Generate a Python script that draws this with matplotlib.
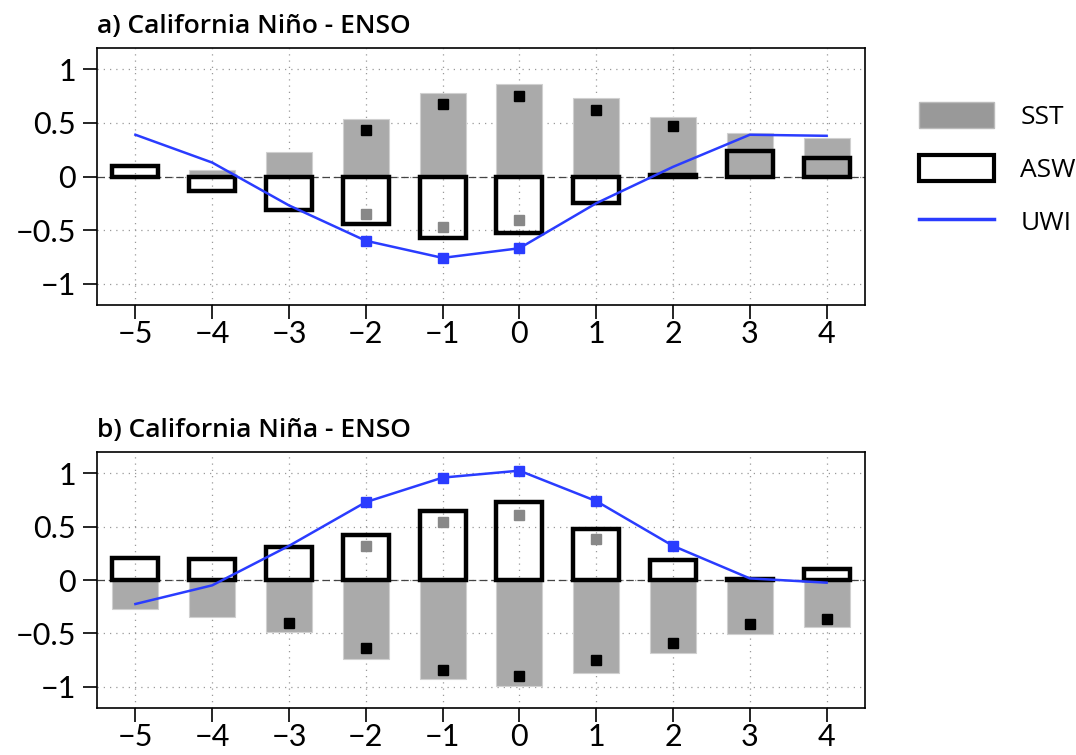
import matplotlib
matplotlib.use('Agg')
import matplotlib.pyplot as plt
from matplotlib.patches import Patch
from matplotlib.lines import Line2D

plt.rcParams['font.family'] = ['Open Sans', 'DejaVu Sans']

# lags
lags = [-5, -4, -3, -2, -1, 0, 1, 2, 3, 4]

# a) California Nino - ENSO
sst_a = [0.0, 0.06, 0.23, 0.54, 0.78, 0.86, 0.73, 0.56, 0.41, 0.36]
asw_a = [0.10, -0.14, -0.31, -0.44, -0.57, -0.53, -0.25, 0.015, 0.24, 0.175]
uwi_a = [0.39, 0.13, -0.27, -0.60, -0.76, -0.67, -0.25, 0.09, 0.39, 0.38]
sig_uwi_a = [-2, -1, 0]
sig_sst_a_x = [-2, -1, 0, 1, 2]
sig_sst_a_y = [0.43, 0.68, 0.75, 0.62, 0.47]
sig_asw_a_x = [-2, -1, 0]
sig_asw_a_y = [-0.35, -0.47, -0.41]

# b) California Nina - ENSO
sst_b = [-0.27, -0.35, -0.49, -0.74, -0.93, -0.99, -0.87, -0.68, -0.51, -0.44]
asw_b = [0.21, 0.20, 0.31, 0.42, 0.65, 0.73, 0.48, 0.19, 0.01, 0.10]
uwi_b = [-0.225, -0.05, 0.32, 0.73, 0.96, 1.025, 0.74, 0.32, 0.015, -0.025]
sig_uwi_b = [-2, -1, 0, 1, 2]
sig_sst_b_x = [-3, -2, -1, 0, 1, 2, 3, 4]
sig_sst_b_y = [-0.40, -0.64, -0.84, -0.90, -0.75, -0.59, -0.41, -0.37]
sig_asw_b_x = [-2, -1, 0, 1]
sig_asw_b_y = [0.32, 0.54, 0.61, 0.38]

SST_COLOR = '#aaaaaa'
BLUE = '#2a3cff'


def draw_panel(ax, title, sst, asw, uwi, sig_uwi, ssx, ssy, sax, say):
    ax.set_xlim(-5.5, 4.5)
    ax.set_ylim(-1.2, 1.2)
    ax.grid(True, color='#999999', linestyle=(0, (1, 4)), linewidth=0.9)
    ax.set_axisbelow(True)
    ax.axhline(0, color='#444444', linestyle=(0, (6, 3)), linewidth=0.9, zorder=2)
    ax.bar(lags, sst, width=0.6, color=SST_COLOR, edgecolor='#d0d0d0', linewidth=0.8, zorder=1)
    ax.bar(lags, asw, width=0.6, fill=False, edgecolor='k', linewidth=3.2, zorder=3)
    ax.plot(ssx, ssy, 's', color='k', markersize=7, zorder=4)
    ax.plot(sax, say, 's', color='#888888', markersize=7, zorder=4)
    ax.plot(lags, uwi, '-', color=BLUE, linewidth=1.8, zorder=5)
    ax.plot(sig_uwi, [uwi[lags.index(l)] for l in sig_uwi], 's', color=BLUE,
            markersize=7.5, zorder=5)
    ax.set_xticks(lags)
    ax.set_xticklabels([str(l).replace('-', '\u2212') for l in lags])
    ax.set_yticks([-1, -0.5, 0, 0.5, 1])
    ax.set_yticklabels(['\u22121', '\u22120.5', '0', '0.5', '1'])
    ax.tick_params(axis='both', direction='out', length=10, width=1.2, labelsize=22)
    ax.tick_params(axis='x', pad=1)
    ax.tick_params(axis='y', pad=5)
    for lab in ax.get_xticklabels() + ax.get_yticklabels():
        lab.set_family(['Lato', 'DejaVu Sans'])
        lab.set_fontweight('normal')
    for s in ax.spines.values():
        s.set_linewidth(1.2)
    ax.text(0.0, 1.035, title, transform=ax.transAxes, fontsize=19,
            fontweight='semibold', ha='left', va='bottom')


fig = plt.figure(figsize=(10.76, 7.55), dpi=100)
ax1 = fig.add_axes([97 / 1076, 1 - 305 / 755, 768 / 1076, 257 / 755])
ax2 = fig.add_axes([97 / 1076, 1 - 708 / 755, 768 / 1076, 256 / 755])

draw_panel(ax1, 'a) California Niño - ENSO', sst_a, asw_a, uwi_a, sig_uwi_a,
           sig_sst_a_x, sig_sst_a_y, sig_asw_a_x, sig_asw_a_y)
draw_panel(ax2, 'b) California Niña - ENSO', sst_b, asw_b, uwi_b, sig_uwi_b,
           sig_sst_b_x, sig_sst_b_y, sig_asw_b_x, sig_asw_b_y)

handles = [Patch(facecolor='#999999', edgecolor='#bbbbbb'),
           Patch(fill=False, edgecolor='k', linewidth=3),
           Line2D([0], [0], color=BLUE, linewidth=2.5)]
fig.legend(handles, ['SST', 'ASW', 'UWI'], loc='upper left',
           bbox_to_anchor=(895 / 1076, 1 - 78 / 755), frameon=False,
           fontsize=19, handlelength=2.85, handleheight=1.15,
           labelspacing=0.95, handletextpad=1.0)

fig.savefig('out.png', dpi=100)
